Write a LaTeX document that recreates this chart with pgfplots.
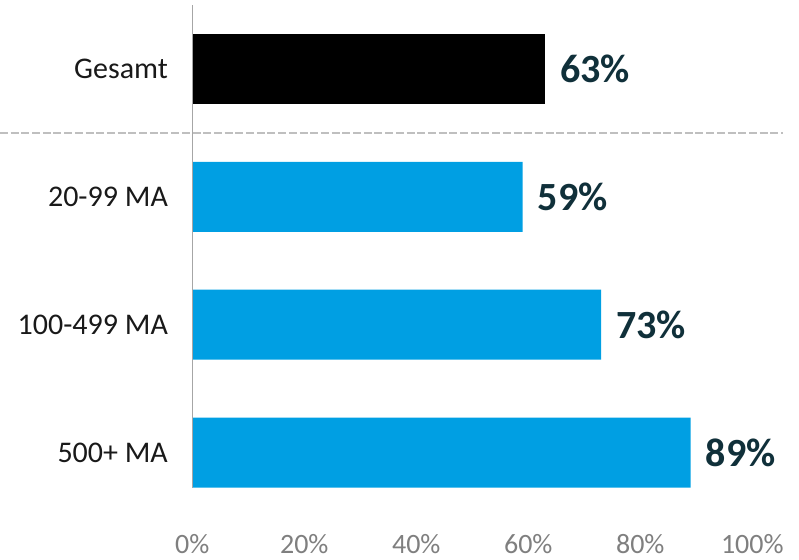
\documentclass[border=0pt]{standalone}
\usepackage{pgfplots}
\pgfplotsset{compat=1.18}
\usepackage{fontspec}
\setmainfont{Carlito}
\definecolor{barblue}{HTML}{009FE3}
\definecolor{valcol}{HTML}{10303A}
\definecolor{tickgray}{HTML}{7F7F7F}
\definecolor{axgray}{HTML}{A6A6A6}
\definecolor{dashgray}{HTML}{BFBFBF}
\begin{document}
\begin{tikzpicture}
\begin{axis}[
  scale only axis,
  width=560bp, height=482.56bp,
  xmin=0, xmax=100, ymin=-0.2734, ymax=3.5,
  xbar, bar width=70bp, bar shift=0pt,
  axis line style={draw=none},
  xtick={0,20,40,60,80,100},
  xticklabels={0\%,20\%,40\%,60\%,80\%,100\%},
  ytick={0,1,2,3},
  yticklabels={500+ MA,100-499 MA,20-99 MA,Gesamt},
  tick style={draw=none},
  xticklabel style={font=\fontsize{28bp}{30bp}\selectfont, text=tickgray, anchor=north, inner sep=0pt, yshift=-47bp},
  yticklabel style={font=\fontsize{30bp}{32bp}\selectfont, text=black!90, anchor=east, inner sep=0pt, xshift=-20bp},
  /pgf/number format/assume math mode=true,
  clip=false,
  nodes near coords,
  point meta=explicit symbolic,
  every node near coord/.append style={font=\bfseries\fontsize{40bp}{42bp}\selectfont, text=valcol, anchor=west, inner sep=0pt, xshift=15bp},
]
\addplot[fill=barblue, draw=none] coordinates {(89,0) [89\%] (73,1) [73\%] (59,2) [59\%]};
\addplot[fill=black, draw=none] coordinates {(63,3) [63\%]};
\draw[axgray, line width=1.3bp] (axis cs:0,-0.2734) -- (axis cs:0,3.5);
\draw[dashgray, line width=2bp, dash pattern=on 8bp off 2.7bp] (axis cs:-34.34,2.5) -- (axis cs:105.48,2.5);
\coordinate (bl) at (axis cs:-34.34,-0.8325);
\coordinate (tr) at (axis cs:108.34,3.539);
\end{axis}
\pgfresetboundingbox
\path[use as bounding box] (bl) rectangle (tr);
\end{tikzpicture}
\end{document}
